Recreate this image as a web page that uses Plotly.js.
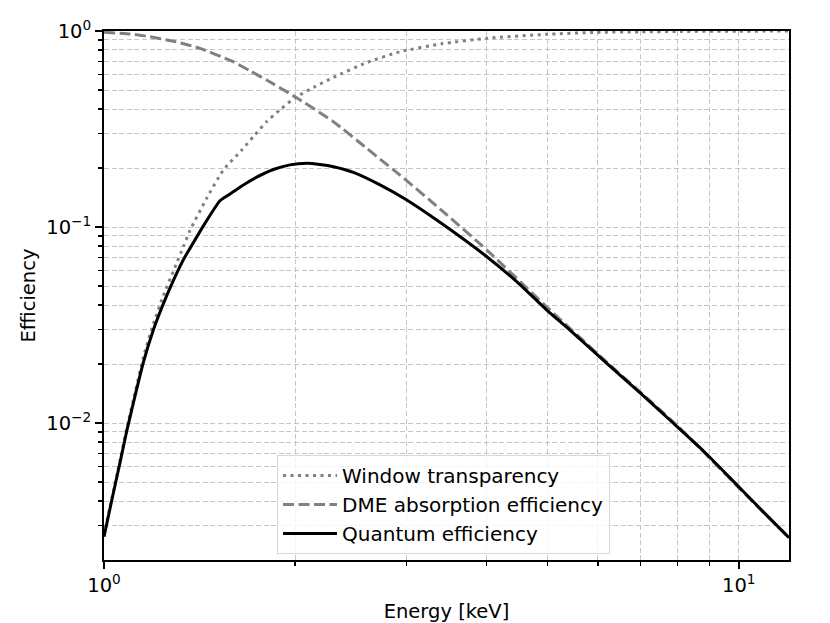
<!DOCTYPE html>
<html>
<head>
<meta charset="utf-8">
<script src="https://cdn.plot.ly/plotly-3.0.1.min.js"></script>
<style>html,body{margin:0;padding:0;background:#fff;}#chart{width:830px;height:623px;}</style>
</head>
<body>
<div id="chart"></div>
<script>
// Window transparency (dotted)
const windowEnergy = [1.0, 1.028, 1.06, 1.086, 1.119, 1.153, 1.196, 1.24, 1.29, 1.334, 1.366, 1.451, 1.542, 1.645, 1.72, 1.804, 1.9, 2.0, 2.15, 2.298, 2.594, 2.927, 3.4, 4.01, 4.98, 5.97, 7.0, 8.08, 10.0, 12.0];
const windowValues = [0.00267, 0.00407, 0.00645, 0.0094, 0.0142, 0.0216, 0.032, 0.0446, 0.061, 0.0795, 0.096, 0.140, 0.1954, 0.245, 0.29, 0.345, 0.40, 0.457, 0.52, 0.58, 0.69, 0.784, 0.86, 0.918, 0.962, 0.985, 0.99, 0.995, 0.998, 0.999];

// DME absorption efficiency (dashed)
const dmeEnergy = [1.0, 1.1, 1.18, 1.3, 1.416, 1.598, 1.7, 1.804, 2.0, 2.298, 2.594, 2.722, 2.927, 3.4, 4.01, 4.98, 6.19, 8.0, 10.0, 12.0];
const dmeValues = [0.985, 0.965, 0.935, 0.88, 0.816, 0.697, 0.625, 0.562, 0.462, 0.3446, 0.252, 0.222, 0.184, 0.122, 0.0763, 0.0392, 0.0205, 0.0097, 0.00468, 0.0026];

// Quantum efficiency (solid)
const qeEnergy = [1.0, 1.028, 1.06, 1.086, 1.119, 1.153, 1.196, 1.24, 1.29, 1.333, 1.366, 1.442, 1.523, 1.57, 1.618, 1.68, 1.74, 1.848, 1.963, 2.086, 2.189, 2.3, 2.471, 2.722, 2.999, 3.4, 4.01, 4.5, 4.984, 5.42, 6.19, 7.0, 7.89, 8.8, 9.69, 11.0, 12.0];
const qeValues = [0.00263, 0.0040, 0.0063, 0.0091, 0.0137, 0.0203, 0.0298, 0.0405, 0.0545, 0.0679, 0.0778, 0.1044, 0.1362, 0.1455, 0.1555, 0.168, 0.1795, 0.1965, 0.2075, 0.2113, 0.2085, 0.203, 0.19, 0.164, 0.1373, 0.1044, 0.0705, 0.0516, 0.0377, 0.0298, 0.0202, 0.0142, 0.00997, 0.0072, 0.00525, 0.00345, 0.0026];

const seriesNames = ["Window transparency", "DME absorption efficiency", "Quantum efficiency"];
const xTickVals = [1, 10];
const xTickText = ["10<sup>0</sup>", "10<sup>1</sup>"];
const xMinorVals = [2, 3, 4, 5, 6, 7, 8, 9];
const yTickVals = [0.01, 0.1, 1];
const yTickText = ["10<sup>\u22122</sup>", "10<sup>\u22121</sup>", "10<sup>0</sup>"];
const yMinorVals = [0.003, 0.004, 0.005, 0.006, 0.007, 0.008, 0.009, 0.02, 0.03, 0.04, 0.05, 0.06, 0.07, 0.08, 0.09, 0.2, 0.3, 0.4, 0.5, 0.6, 0.7, 0.8, 0.9];

const traces = [
  {x: windowEnergy, y: windowValues, name: seriesNames[0], mode: "lines", line: {color: "#808080", width: 3, dash: "3px,4.5px", shape: "spline", smoothing: 0.5}},
  {x: dmeEnergy, y: dmeValues, name: seriesNames[1], mode: "lines", line: {color: "#808080", width: 3, dash: "11px,4.5px", shape: "spline", smoothing: 0.5}},
  {x: qeEnergy, y: qeValues, name: seriesNames[2], mode: "lines", line: {color: "#000000", width: 3, shape: "spline", smoothing: 0.5}}
];

const GRID = "#c6c6c6";
const GDASH = "5px,2.6px";

const layout = {
  width: 830, height: 623,
  margin: {l: 104, r: 41, t: 31, b: 63},
  paper_bgcolor: "#fff", plot_bgcolor: "#fff",
  font: {family: "DejaVu Sans", size: 20, color: "#000"},
  showlegend: true,
  legend: {
    x: 0.2526, y: 0.1985, xanchor: "left", yanchor: "top",
    bgcolor: "rgba(255,255,255,0.8)", bordercolor: "#d8d8d8", borderwidth: 1,
    font: {family: "DejaVu Sans", size: 20}, itemwidth: 54, tracegroupgap: 0
  },
  xaxis: {
    type: "log", range: [0, Math.log10(12)],
    tickvals: xTickVals, ticktext: xTickText,
    ticks: "outside", ticklen: 7, tickwidth: 1.6, tickcolor: "#000",
    tickfont: {size: 19.5},
    showline: true, linecolor: "#000", linewidth: 1.9, mirror: true,
    showgrid: true, gridcolor: GRID, griddash: GDASH, gridwidth: 1, zeroline: false,
    title: {text: "Energy [keV]", font: {size: 19.5}, standoff: 8},
    minor: {tickvals: xMinorVals, ticks: "outside", ticklen: 4, tickwidth: 1.2, tickcolor: "#000", showgrid: true, gridcolor: GRID, griddash: GDASH, gridwidth: 1}
  },
  yaxis: {
    type: "log", range: [Math.log10(0.002), 0],
    tickvals: yTickVals, ticktext: yTickText,
    ticks: "outside", ticklen: 7, tickwidth: 1.6, tickcolor: "#000",
    tickfont: {size: 19.5},
    showline: true, linecolor: "#000", linewidth: 1.9, mirror: true,
    showgrid: true, gridcolor: GRID, griddash: GDASH, gridwidth: 1, zeroline: false,
    title: {text: "Efficiency", font: {size: 19.5}, standoff: 5},
    minor: {tickvals: yMinorVals, ticks: "outside", ticklen: 4, tickwidth: 1.2, tickcolor: "#000", showgrid: true, gridcolor: GRID, griddash: GDASH, gridwidth: 1}
  }
};

Plotly.newPlot("chart", traces, layout, {displayModeBar: false, staticPlot: true});
</script>
</body>
</html>
